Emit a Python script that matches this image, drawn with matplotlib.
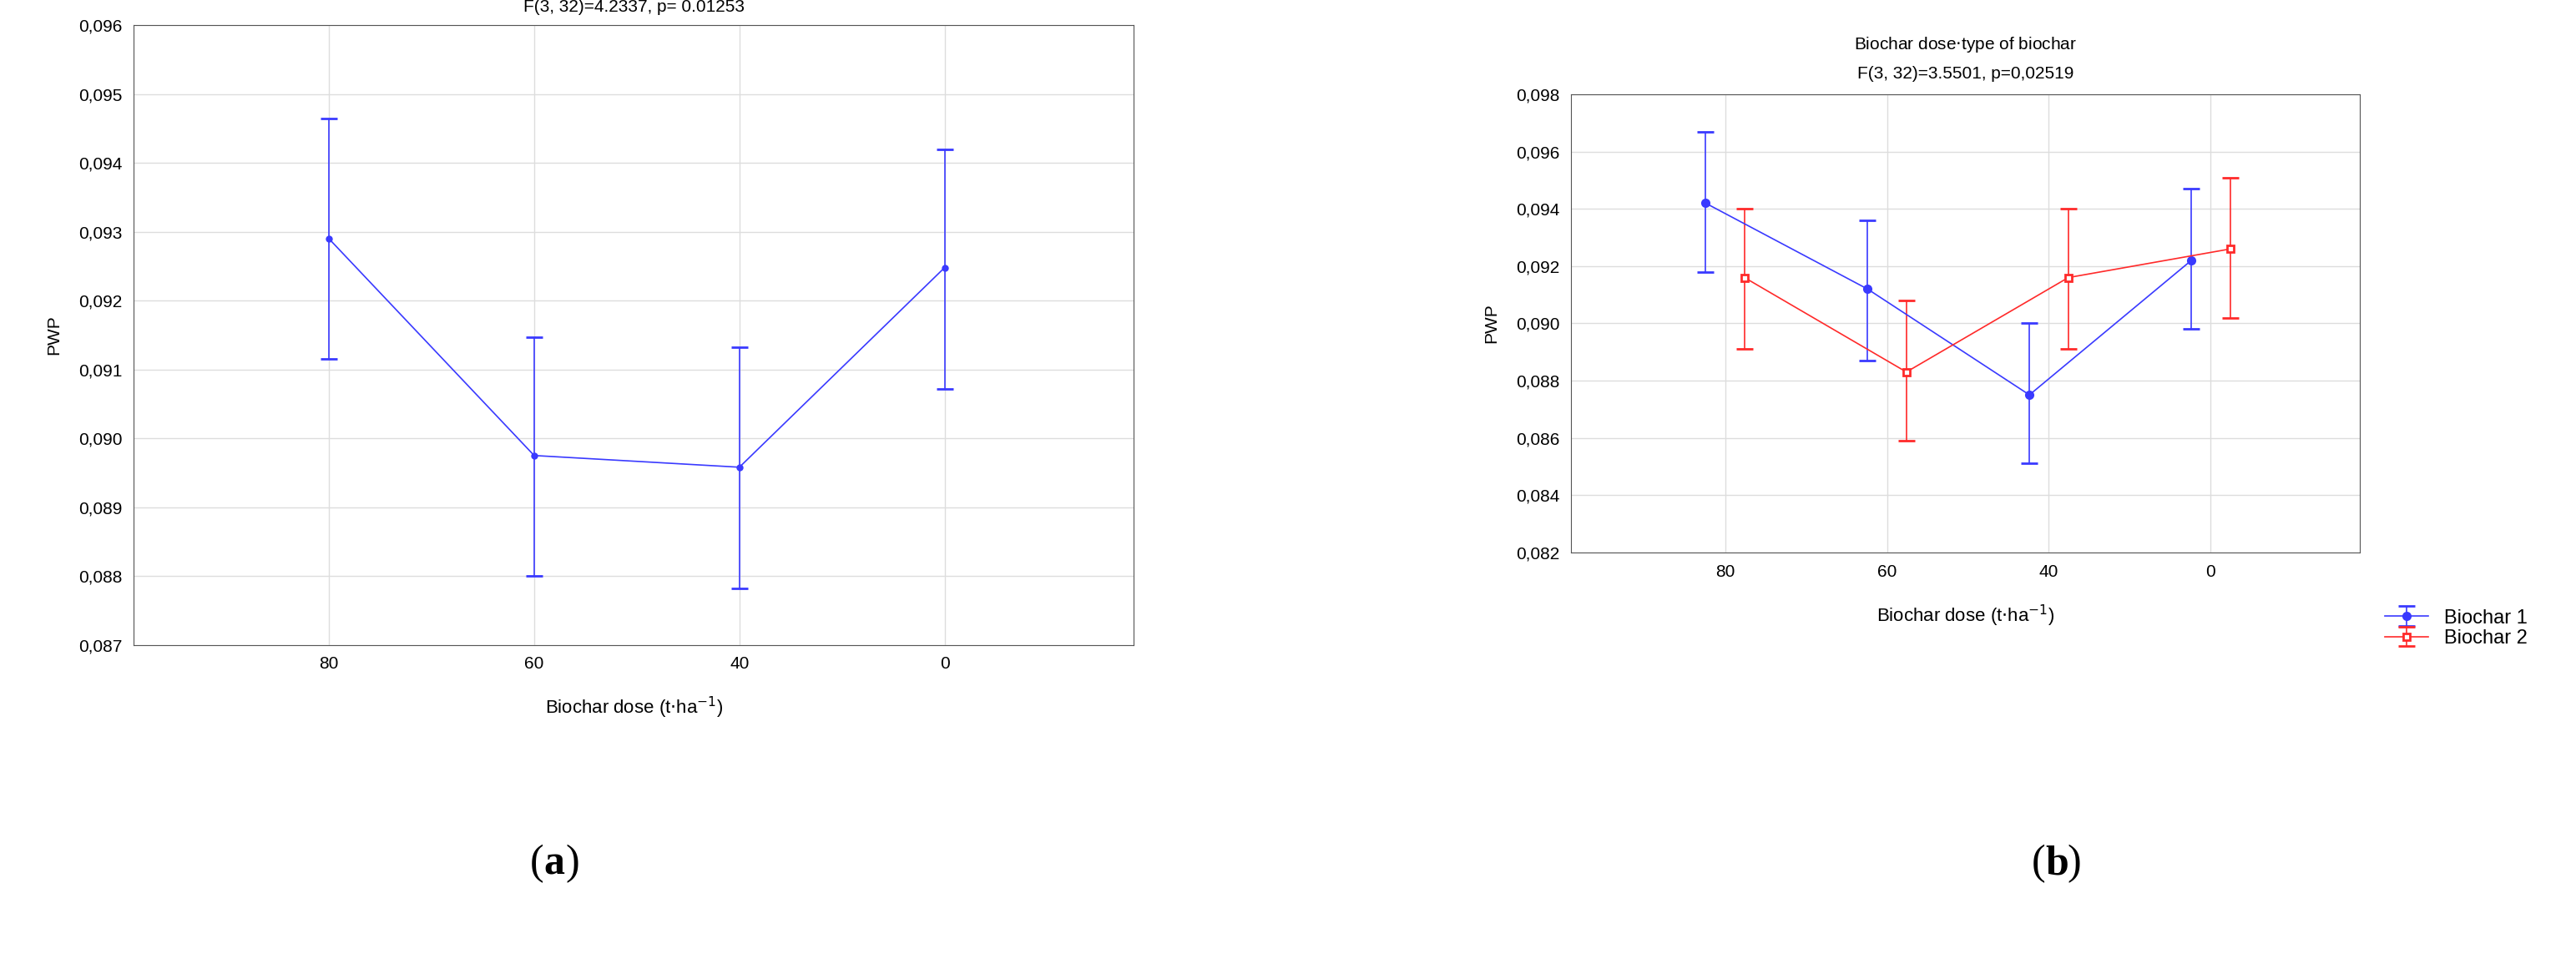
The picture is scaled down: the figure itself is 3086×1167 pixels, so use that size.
import matplotlib.pyplot as plt

plt.rcParams['font.family'] = ['Liberation Sans', 'DejaVu Sans']

doses = ['80', '60', '40', '0']

# panel (a): main effect of biochar dose
mean_a = [0.09290, 0.08975, 0.08958, 0.09248]
low_a = [0.09115, 0.08800, 0.08782, 0.09072]
high_a = [0.09465, 0.09147, 0.09132, 0.09420]

# panel (b): dose x type of biochar
mean_b1 = [0.0942, 0.0912, 0.0875, 0.0922]
low_b1 = [0.0918, 0.0887, 0.0851, 0.0898]
high_b1 = [0.0967, 0.0936, 0.0900, 0.0947]
mean_b2 = [0.0916, 0.0883, 0.0916, 0.0926]
low_b2 = [0.0891, 0.0859, 0.0891, 0.0902]
high_b2 = [0.0940, 0.0908, 0.0940, 0.0951]

fig = plt.figure(figsize=(30.86, 11.67), dpi=100)
# axes boxes in figure fractions (left, top, right, bottom)
ax_a = fig.add_axes([0.052, 1 - 0.662, 0.388, 0.636])
ax_b = fig.add_axes([0.610, 1 - 0.567, 0.306, 0.470])

blue = '#3a3aff'
red = '#ff2a2a'
x = [1, 2, 3, 4]


def draw(ax, xs, m, lo, hi, color, marker, label=None, mfc=None, ms=6):
    yerr = [[mm - l for mm, l in zip(m, lo)], [h - mm for mm, h in zip(m, hi)]]
    ax.errorbar(xs, m, yerr=yerr, color=color, lw=1.2, capsize=7, capthick=1.2,
                elinewidth=1.2, marker=marker, ms=ms, mfc=mfc or color,
                mec=color, mew=2, label=label)


def style(ax):
    ax.set_xlim(0.05, 4.92)
    ax.set_xticks(x)
    ax.set_xticklabels(doses)
    ax.grid(True, color='#dddddd', lw=1)
    ax.set_axisbelow(True)
    ax.tick_params(labelsize=15, length=0, pad=10)
    for s in ax.spines.values():
        s.set_color('#555555')
    ax.set_ylabel('PWP', fontsize=15, labelpad=14)
    ax.set_xlabel('Biochar dose (t$\\cdot$ha$^{-1}$)', fontsize=16, labelpad=20)


draw(ax_a, x, mean_a, low_a, high_a, blue, 'o', ms=4)
style(ax_a)
ax_a.set_ylim(0.087, 0.096)
ax_a.set_yticks([0.087 + 0.001 * i for i in range(10)])
ax_a.set_yticklabels([f'{0.087 + 0.001 * i:.3f}'.replace('.', ',') for i in range(10)])
ax_a.set_title('F(3, 32)=4.2337, p= 0.01253', fontsize=15, pad=12)

draw(ax_b, [v - 0.12 for v in x], mean_b1, low_b1, high_b1, blue, 'o',
     'Biochar 1')
draw(ax_b, [v + 0.12 for v in x], mean_b2, low_b2, high_b2, red, 's',
     'Biochar 2', mfc='white')
style(ax_b)
ax_b.set_ylim(0.082, 0.098)
yt = [0.082 + 0.002 * i for i in range(9)]
ax_b.set_yticks(yt)
ax_b.set_yticklabels([f'{v:.3f}'.replace('.', ',') for v in yt])
ax_b.set_title('Biochar dose$\\cdot$type of biochar\nF(3, 32)=3.5501, p=0,02519',
               fontsize=15, pad=14, linespacing=1.9)
ax_b.legend(loc='upper left', bbox_to_anchor=(0.922, 1 - 0.615),
            bbox_transform=fig.transFigure, fontsize=17,
            frameon=False, handlelength=2.2, borderpad=0, labelspacing=0.1)

ly = 1 - 0.887
for cx, letter in [(0.211, 'a'), (0.794, 'b')]:
    fig.text(cx, ly, '(', fontsize=36, family='Liberation Serif', va='center', ha='right')
    t = fig.text(cx, ly, letter, fontsize=36, family='Liberation Serif',
                 weight='bold', va='center', ha='left')
    fig.text(cx + 0.0085, ly, ')', fontsize=36, family='Liberation Serif', va='center', ha='left')

fig.savefig('out.png', dpi=100)
